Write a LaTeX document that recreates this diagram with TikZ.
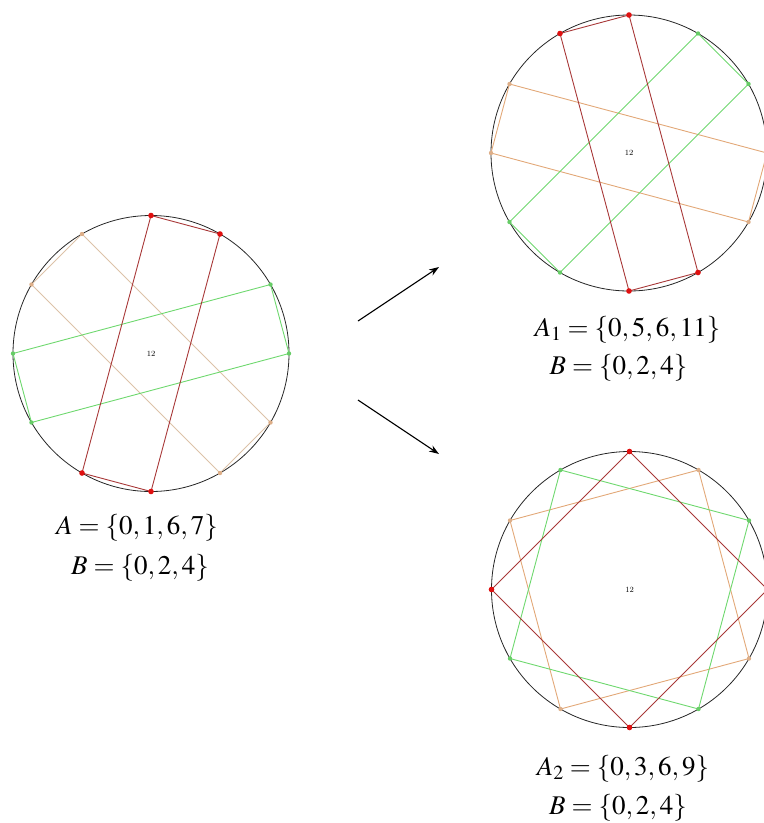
\documentclass[tikz,border=0pt]{standalone}
\usepackage{mathptmx}
\usetikzlibrary{arrows.meta,calc}
\definecolor{ChordRed}{HTML}{A83838}
\definecolor{DotRed}{HTML}{E01010}
\definecolor{ChordGreen}{HTML}{6ED86E}
\definecolor{DotGreen}{HTML}{66CC66}
\definecolor{ChordTan}{HTML}{DCC2A8}
\definecolor{ChordOrange}{HTML}{E2A878}
\definecolor{DotOrange}{HTML}{DDAE88}

\begin{document}
\begin{tikzpicture}[x=1pt,y=-1pt,
    ring/.style={circle,draw=black!85,line width=0.8pt,minimum size=276pt,inner sep=0pt,outer sep=0pt,
      font=\fontfamily{phv}\fontsize{8}{8}\selectfont},
    chord/.style={line width=0.9pt},
    setlabel/.style={inner sep=0pt,font=\fontsize{27}{32}\selectfont},
    pointer/.style={line width=1.1pt,-{Stealth[length=10pt,width=7pt]}}]
  \useasboundingbox (0,0) rectangle (764,823);
  \node[ring] (L) at (151,353.5) {12};
  \node[ring] (T) at (629,153) {12};
  \node[ring] (D) at (629.5,589.5) {12};
  \foreach \c in {L,T,D}
    \foreach \k in {0,...,11}
      \coordinate (\c\k) at ($(\c)+({90-30*\k}:138pt)$);
  \draw[chord,ChordTan] (L4) -- (L5) -- (L10) -- (L11) -- cycle;
  \draw[chord,ChordGreen] (L2) -- (L3) -- (L8) -- (L9) -- cycle;
  \draw[chord,ChordRed] (L0) -- (L1) -- (L6) -- (L7) -- cycle;
  \draw[chord,ChordOrange] (T3) -- (T4) -- (T9) -- (T10) -- cycle;
  \draw[chord,ChordGreen] (T1) -- (T2) -- (T7) -- (T8) -- cycle;
  \draw[chord,ChordRed] (T0) -- (T5) -- (T6) -- (T11) -- cycle;
  \draw[chord,ChordOrange] (D1) -- (D4) -- (D7) -- (D10) -- cycle;
  \draw[chord,ChordGreen] (D2) -- (D5) -- (D8) -- (D11) -- cycle;
  \draw[chord,ChordRed] (D0) -- (D3) -- (D6) -- (D9) -- cycle;
  \foreach \k in {4,5,10,11} \fill[DotOrange] (L\k) circle (2.2pt);
  \foreach \k in {2,3,8,9} \fill[DotGreen] (L\k) circle (2.2pt);
  \foreach \k in {0,1,6,7} \fill[DotRed] (L\k) circle (2.8pt);
  \foreach \k in {3,4,9,10} \fill[DotOrange] (T\k) circle (2.2pt);
  \foreach \k in {1,2,7,8} \fill[DotGreen] (T\k) circle (2.2pt);
  \foreach \k in {0,5,6,11} \fill[DotRed] (T\k) circle (2.8pt);
  \foreach \k in {1,4,7,10} \fill[DotOrange] (D\k) circle (2.2pt);
  \foreach \k in {2,5,8,11} \fill[DotGreen] (D\k) circle (2.2pt);
  \foreach \k in {0,3,6,9} \fill[DotRed] (D\k) circle (2.8pt);
  \coordinate (upFrom) at (358,321);
  \coordinate (upTo) at (439,267);
  \coordinate (downFrom) at (358,400);
  \coordinate (downTo) at (439,454);
  \draw[pointer] (upFrom) -- (upTo);
  \draw[pointer] (downFrom) -- (downTo);
  \node[setlabel] (LA) at (137,528) {$A=\{0,1,6,7\}$};
  \node[setlabel] (LB) at (140,568) {$B=\{0,2,4\}$};
  \node[setlabel] (TA) at (627.5,330) {$A_1=\{0,5,6,11\}$};
  \node[setlabel] (TB) at (618.5,368) {$B=\{0,2,4\}$};
  \node[setlabel] (DA) at (623,769) {$A_2=\{0,3,6,9\}$};
  \node[setlabel] (DB) at (618,808) {$B=\{0,2,4\}$};
\end{tikzpicture}
\end{document}
